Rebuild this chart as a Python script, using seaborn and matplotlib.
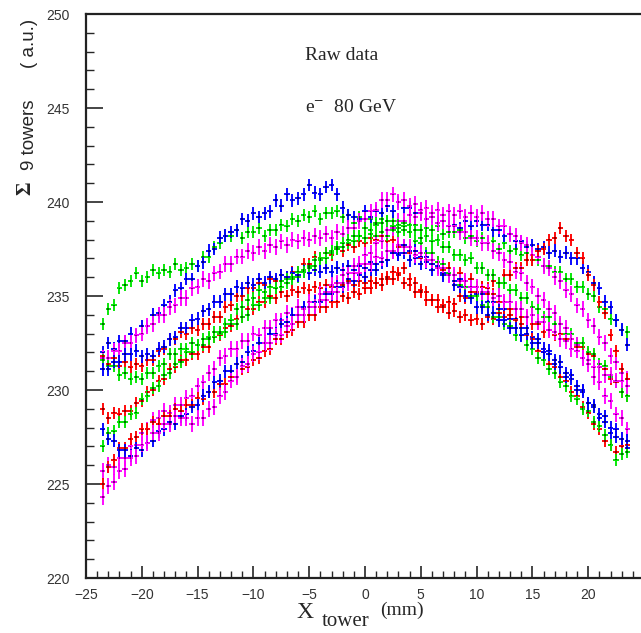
import numpy as np
import pandas as pd
import matplotlib
matplotlib.use("Agg")
import matplotlib.pyplot as plt
import seaborn as sns

# ---------------- data (0.5 mm scan steps from -23.5 to 23.5 mm) ----------------
green_1 = [233.5,234.3,234.5,235.4,235.6,235.8,236.2,235.8,236.0,236.4,
           236.2,236.4,236.3,236.7,236.4,236.5,236.7,236.6,237.1,237.1,
           237.6,237.8,238.2,238.2,238.5,238.1,238.4,238.4,238.6,238.2,
           238.5,238.5,238.8,238.7,239.1,239.0,239.3,239.2,239.5,239.1,
           239.4,239.4,239.5,239.2,239.3,238.9,239.2,239.1,239.1,238.8,
           239.1,239.0,239.0,238.6,238.9,238.8,238.8,238.5,238.6,238.5,
           238.7,238.3,238.4,238.4,238.5,238.1,238.2,237.9,238.1,237.8,
           237.9,237.5,237.8,237.4,237.5,237.2,237.3,236.9,236.9,236.6,
           236.6,236.3,236.3,235.9,235.9,235.5,235.5,235.1,235.0,234.4,
           234.3,233.8,233.7,233.2,233.1]
green_2 = [231.6,231.3,231.3,230.8,230.9,230.6,230.7,230.6,230.9,230.9,
           231.3,231.4,231.9,231.9,232.2,232.2,232.5,232.4,232.7,232.7,
           233.1,233.0,233.5,233.7,234.3,234.4,234.8,234.9,235.3,235.2,
           235.5,235.4,235.8,235.7,236.0,236.0,236.4,236.5,236.9,236.9,
           237.3,237.3,237.6,237.6,238.0,237.9,238.2,238.1,238.3,238.2,
           238.4,238.2,238.5,238.4,238.7,238.4,238.5,238.1,238.2,237.9,
           238.0,237.6,237.6,237.2,237.2,236.9,237.0,236.5,236.5,236.1,
           236.1,235.7,235.7,235.3,235.3,234.9,234.9,234.4,234.3,233.9,
           233.9,233.5,233.5,233.0,233.0,232.5,232.5,232.0,231.9,231.4,
           231.3,230.7,230.5,229.9,229.7]
green_3 = [227.0,227.7,227.8,228.3,228.3,228.7,228.8,229.5,229.7,230.1,
           230.2,230.8,230.9,231.4,231.5,232.0,232.0,232.4,232.4,232.8,
           232.8,233.1,233.1,233.5,233.5,233.9,234.0,234.5,234.5,234.9,
           234.9,235.4,235.5,235.9,235.9,236.3,236.3,236.6,236.6,237.0,
           237.0,237.4,237.5,237.8,237.8,238.2,238.2,238.6,238.5,238.9,
           238.9,239.0,238.7,238.8,238.5,238.4,237.9,237.8,237.3,237.3,
           236.8,236.7,236.2,236.1,235.6,235.5,235.0,235.0,234.5,234.4,
           233.9,233.9,233.5,233.4,232.9,232.9,232.4,232.2,231.7,231.6,
           231.1,230.9,230.4,230.2,229.7,229.5,229.0,228.9,228.3,228.1,
           227.6,227.1,226.3,226.6,226.7]
blue_1 = [232.0,232.5,232.2,232.6,232.6,233.0,232.9,233.4,233.4,234.0,
          234.1,234.5,234.7,235.3,235.4,235.9,235.9,236.6,236.8,237.4,
          237.5,238.1,238.2,238.4,238.5,239.1,239.0,239.4,239.2,239.4,
          239.5,240.1,239.8,240.4,240.1,240.2,240.4,240.9,240.5,240.4,
          240.8,240.9,240.4,239.7,239.3,239.2,239.1,239.5,239.2,239.5,
          239.4,239.8,239.5,240.0,239.7,239.7,239.4,239.4,239.1,239.2,
          238.9,239.0,238.7,238.8,238.6,239.0,238.7,239.0,238.8,238.8,
          238.5,238.5,238.2,238.3,237.9,237.9,237.6,237.7,237.5,237.6,
          237.3,237.4,237.1,237.3,237.0,237.0,236.5,236.3,235.7,235.4,
          234.7,234.4,233.7,233.2,232.4]
blue_2 = [231.1,231.1,231.5,231.5,231.9,231.9,232.1,231.8,231.9,231.8,
          232.2,232.3,232.7,232.8,233.3,233.3,233.7,233.8,234.2,234.3,
          234.7,234.7,235.1,235.1,235.5,235.4,235.7,235.6,235.9,235.7,
          236.0,235.9,236.1,236.0,236.2,236.1,236.3,236.2,236.4,236.3,
          236.5,236.3,236.5,236.4,236.6,236.4,236.6,236.5,236.8,236.7,
          237.0,236.9,237.3,237.2,237.3,236.9,237.0,236.7,236.8,236.4,
          236.5,236.1,236.2,235.8,235.9,235.5,235.5,235.1,235.1,234.7,
          234.7,234.3,234.3,233.8,233.8,233.3,233.3,232.8,232.7,232.2,
          232.1,231.6,231.5,230.9,230.8,230.2,230.0,229.3,229.1,228.5,
          228.3,227.7,227.5,227.0,226.9]
blue_3 = [227.9,227.4,227.3,226.8,226.8,226.5,226.9,226.8,227.2,227.3,
          227.8,227.9,228.3,228.2,228.6,228.7,229.1,229.2,229.7,229.9,
          230.4,230.5,231.0,231.0,231.4,231.5,232.0,232.1,232.5,232.5,
          233.0,233.0,233.5,233.6,234.0,234.0,234.4,234.4,234.7,234.7,
          235.1,235.1,235.5,235.5,235.9,235.8,236.1,236.0,236.4,236.4,
          236.8,236.9,237.3,237.3,237.7,237.4,237.4,237.1,237.1,236.7,
          236.6,236.2,236.1,235.6,235.5,235.0,234.9,234.4,234.4,234.0,
          234.1,233.7,233.7,233.3,233.3,232.9,233.0,232.5,232.5,232.0,
          231.9,231.4,231.2,230.7,230.6,230.0,229.9,229.3,229.2,228.7,
          228.6,228.0,227.9,227.4,227.3]
red_1 = [231.8,231.4,231.7,231.3,231.5,231.2,231.4,231.3,231.6,231.6,
         232.1,232.2,232.7,232.7,233.1,233.0,233.3,233.2,233.5,233.5,
         233.9,233.9,234.4,234.5,235.0,235.0,235.4,235.4,235.7,235.6,
         235.9,235.8,236.1,236.0,236.3,236.3,236.7,236.7,237.1,237.0,
         237.3,237.2,237.5,237.4,237.7,237.6,237.9,237.8,238.1,238.0,
         238.2,237.9,238.0,237.6,237.7,237.3,237.4,237.0,237.1,236.7,
         236.8,236.4,236.5,236.1,236.2,235.8,235.9,235.5,235.5,235.1,
         235.1,234.7,234.7,234.3,234.3,233.9,233.9,233.5,233.5,233.1,
         233.2,232.9,233.0,232.7,232.7,232.3,232.3,231.9,231.8,231.2,
         231.1,230.6,230.4,229.9,229.7]
red_2 = [229.0,228.5,228.8,228.7,228.9,228.9,229.3,229.4,229.9,230.0,
         230.5,230.6,231.1,231.2,231.6,231.6,231.9,231.9,232.3,232.3,
         232.8,232.9,233.3,233.4,233.8,233.9,234.3,234.3,234.7,234.7,
         235.0,234.9,235.2,235.0,235.3,235.2,235.4,235.3,235.5,235.4,
         235.6,235.5,235.7,235.6,235.8,235.6,235.8,235.7,235.8,235.7,
         235.9,235.9,236.3,236.2,236.5,235.9,235.7,235.3,235.2,234.8,
         234.8,234.5,234.7,234.6,235.0,234.9,235.2,235.2,235.5,235.4,
         235.8,235.7,236.1,236.1,236.5,236.5,236.9,236.9,237.4,237.5,
         238.0,238.1,238.6,238.2,238.0,237.3,237.0,236.1,235.6,234.7,
         234.1,232.9,232.1,231.1,230.6]
red_3 = [225.0,225.9,226.3,226.9,226.9,227.4,227.5,227.9,227.9,228.3,
         228.2,228.6,228.6,229.0,228.9,229.2,229.2,229.6,229.5,229.9,
         229.9,230.3,230.3,230.7,230.7,231.1,231.2,231.6,231.7,232.1,
         232.2,232.7,232.7,233.1,233.2,233.6,233.6,234.0,234.0,234.4,
         234.4,234.7,234.7,235.0,234.9,235.2,235.1,235.4,235.4,235.7,
         235.6,236.0,235.9,236.1,235.7,235.6,235.2,235.2,234.8,234.8,
         234.4,234.4,234.1,234.2,233.9,234.0,233.7,233.8,233.5,233.9,
         233.8,234.1,233.9,234.0,233.7,233.5,232.9,232.7,232.1,232.0,
         231.4,231.2,230.7,230.5,229.9,229.7,229.1,228.8,228.2,227.9,
         227.3,227.1,226.7,227.0,227.1]
magenta_1 = [231.7,231.7,232.1,232.1,232.5,232.5,232.9,233.0,233.4,233.5,
             234.0,234.0,234.4,234.5,234.9,234.9,235.4,235.5,235.9,235.8,
             236.2,236.3,236.7,236.7,237.1,237.1,237.4,237.3,237.6,237.4,
             237.7,237.6,237.9,237.7,238.0,237.9,238.1,238.0,238.2,238.1,
             238.3,238.1,238.4,238.3,238.6,238.6,239.0,239.1,239.5,239.6,
             240.1,240.1,240.4,240.0,240.1,239.8,239.9,239.6,239.7,239.4,
             239.6,239.3,239.5,239.3,239.5,239.2,239.4,239.2,239.4,239.1,
             239.1,238.7,238.7,238.3,238.2,237.8,237.7,237.2,237.1,236.6,
             236.5,236.0,235.8,235.3,235.1,234.5,234.3,233.7,233.4,232.8,
             232.5,231.8,231.5,230.9,230.6]
magenta_2 = [225.7,226.0,225.9,226.4,226.4,227.0,227.1,227.7,227.9,228.4,
             228.5,228.9,228.8,229.2,229.2,229.6,229.7,230.2,230.4,230.9,
             231.1,231.7,231.8,232.2,232.2,232.6,232.6,233.0,232.9,233.3,
             233.3,233.7,233.7,234.1,234.0,234.4,234.3,234.7,234.7,235.1,
             235.2,235.6,235.7,236.1,236.2,236.6,236.7,237.2,237.3,237.8,
             237.9,238.5,238.6,239.0,239.0,239.3,239.2,239.4,239.1,239.2,
             238.9,239.0,238.7,238.7,238.4,238.4,238.1,238.1,237.8,237.8,
             237.4,237.3,236.9,236.8,236.3,236.2,235.7,235.5,235.0,234.8,
             234.3,234.1,233.5,233.3,232.7,232.4,231.7,231.4,230.7,230.4,
             229.7,229.4,228.7,228.5,227.9]
magenta_3 = [224.3,224.9,225.1,225.7,225.8,226.4,226.5,227.1,227.2,227.7,
             227.7,228.2,228.2,228.6,228.5,228.5,228.2,228.5,228.5,229.0,
             229.1,229.7,229.9,230.5,230.7,231.3,231.4,231.9,232.0,232.5,
             232.5,232.9,232.9,233.4,233.5,234.0,234.0,234.4,234.4,234.8,
             234.8,235.2,235.2,235.7,235.7,236.2,236.2,236.7,236.7,237.1,
             237.0,237.4,237.4,237.7,237.6,237.6,237.2,237.3,236.9,236.9,
             236.5,236.5,236.1,236.1,235.8,235.8,235.5,235.5,235.2,235.2,
             234.9,235.0,234.7,234.7,234.3,234.3,233.9,234.0,233.6,233.6,
             233.2,233.1,232.7,232.6,232.2,232.1,231.7,231.6,231.2,231.2,
             230.8,230.8,230.5,230.5,230.2]

scan_start, scan_end = -23.5, 23.5

series = {
    "red_1": ("red", red_1), "green_1": ("green", green_1), "blue_1": ("blue", blue_1), "magenta_1": ("magenta", magenta_1),
    "red_2": ("red", red_2), "green_2": ("green", green_2), "blue_2": ("blue", blue_2), "magenta_2": ("magenta", magenta_2),
    "red_3": ("red", red_3), "green_3": ("green", green_3), "blue_3": ("blue", blue_3), "magenta_3": ("magenta", magenta_3),
}
colour_map = {"red": "#ff0000", "green": "#00e600", "blue": "#0000ff", "magenta": "#ff00ff"}
centre_map = {"red": "#8a0000", "green": "#006a00", "blue": "#00007a", "magenta": "#800080"}
y_err = {"red": 0.32, "green": 0.32, "blue": 0.34, "magenta": 0.42}
x_err = 0.24

rows = []
for name, (col, vals) in series.items():
    xs = np.linspace(scan_start, scan_end, len(vals))
    for xv, yv in zip(xs, vals):
        rows.append({"x": xv, "y": yv, "series": name, "colour": col})
df = pd.DataFrame(rows)

# ---------------- figure ----------------
sns.set_style("white")
plt.rcParams["mathtext.fontset"] = "stix"

W, H = 641, 633
fig = plt.figure(figsize=(W / 100, H / 100), dpi=100)
ax_left, ax_right, ax_top, ax_bot = 86, 644, 14, 578
ax = fig.add_axes([ax_left / W, 1 - ax_bot / H, (ax_right - ax_left) / W, (ax_bot - ax_top) / H])

for name, (col, vals) in series.items():
    sub = df[df["series"] == name]
    ax.errorbar(sub["x"], sub["y"], xerr=x_err, yerr=y_err[col], fmt="none",
                ecolor=colour_map[col], elinewidth=1.35, capsize=0, zorder=2)

sns.scatterplot(data=df, x="x", y="y", hue="colour", palette=centre_map, s=1.5,
                marker="s", linewidth=0, legend=False, ax=ax, zorder=3)

ax.set_xlim(-25, 25)
ax.set_ylim(220, 250)
ax.set_xlabel("")
ax.set_ylabel("")

ax.set_xticks(np.arange(-25, 21, 5))
ax.set_xticklabels(["\u221225", "\u221220", "\u221215", "\u221210", "\u22125", "0", "5", "10", "15", "20"])
ax.set_xticks(np.arange(-25, 25.1, 1), minor=True)
ax.set_yticks(np.arange(220, 251, 5))
ax.set_yticks(np.arange(220, 250.1, 1), minor=True)

for lab in ax.get_xticklabels() + ax.get_yticklabels():
    lab.set_fontfamily("Liberation Sans")
    lab.set_fontsize(10)
    lab.set_color("#333333")

ax.tick_params(axis="x", which="major", direction="in", length=9, width=1.2, pad=7, bottom=True, top=False)
ax.tick_params(axis="x", which="minor", direction="in", length=5, width=1.0, bottom=True, top=False)
ax.tick_params(axis="y", which="major", direction="in", length=12, width=1.2, pad=12, left=True, right=False)
ax.tick_params(axis="y", which="minor", direction="in", length=6, width=1.0, left=True, right=False)

for s in ["left", "bottom", "top"]:
    ax.spines[s].set_visible(True)
    ax.spines[s].set_linewidth(1.6)
    ax.spines[s].set_color("#222222")
ax.spines["right"].set_visible(False)

# annotations
fig.text(305 / W, 1 - 55 / H, "Raw data", fontfamily="Liberation Serif", fontsize=14, va="center", ha="left")
fig.text(305 / W, 1 - 108 / H, r"e$^{-}$  80 GeV", fontfamily="Liberation Serif", fontsize=14, va="center", ha="left")

# y label: Σ 9 towers (a.u.)
fig.text(25 / W, 1 - 188 / H, "\u03a3", fontfamily="Liberation Serif", fontweight="bold", fontsize=15,
         rotation=90, ha="center", va="center")
fig.text(29 / W, 1 - 135 / H, "9 towers", fontfamily="Liberation Sans", fontsize=13.5,
         rotation=90, ha="center", va="center")
fig.text(29 / W, 1 - 43 / H, "( a.u.)", fontfamily="Liberation Sans", fontsize=13.5,
         rotation=90, ha="center", va="center")

# x label: X_tower (mm)
fig.text(305 / W, 1 - 613 / H, "X", fontfamily="Liberation Serif", fontsize=17, ha="center", va="center")
fig.text(346 / W, 1 - 621 / H, "tower", fontfamily="Liberation Serif", fontsize=15, ha="center", va="center")
fig.text(402 / W, 1 - 610 / H, "(mm)", fontfamily="Liberation Serif", fontsize=14, ha="center", va="center")

fig.savefig("out.png", dpi=100)
